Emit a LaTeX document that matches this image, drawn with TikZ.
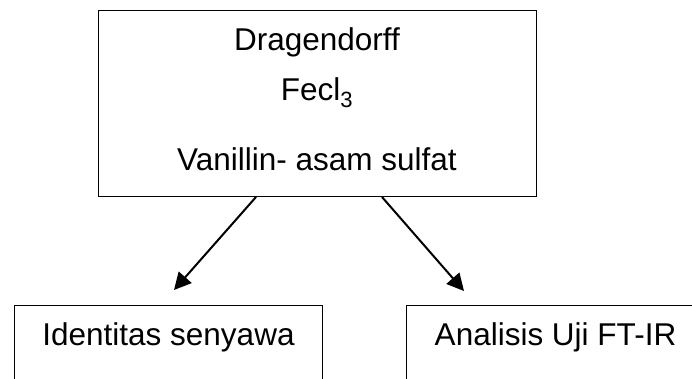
\documentclass[tikz,border=0pt]{standalone}
\usepackage{fontspec}
\setmainfont{Liberation Sans}
\usetikzlibrary{arrows.meta}
\usetikzlibrary{positioning}

\begin{document}
\begin{tikzpicture}[x=1pt,y=-1pt]
	\tikzset{
		box/.style={draw,line width=1pt,inner sep=0,font=\fontsize{31.5}{32}\selectfont},
		%
		topbox/.style={box,anchor=north,minimum width=438pt,text height=160pt,text depth=26pt,align=center},
		lowbox/.style={box,anchor=north west,text height=40pt,text depth=70pt},
		%
		arr/.style={line width=2pt,-{Triangle[length=17pt,width=17pt]}}
	}
	
	\path[use as bounding box,clip] (0,0) rectangle (692,378);
	
	\node[topbox] (reagen) at (317,10) {Dragendorff\\[18pt]Fecl\textsubscript{3}\\[38pt]Vanillin- asam sulfat};
	
	\node[lowbox,minimum width=308pt] (identitas) at (14,305) {Identitas senyawa};
	\node[lowbox,minimum width=298pt] (ftir) at (406,305) {Analisis Uji FT-IR};
	
	\coordinate (tipkiri) at (174,290);
	\coordinate (tipkanan) at (464,291);
	
	\draw[arr] ([xshift=-61pt]reagen.south) -- (tipkiri);
	\draw[arr] ([xshift=65pt]reagen.south) -- (tipkanan);
\end{tikzpicture}
\end{document}
